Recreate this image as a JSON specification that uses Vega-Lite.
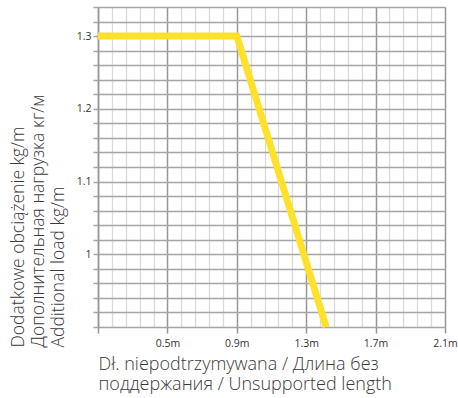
{
  "$schema": "https://vega.github.io/schema/vega-lite/v6.json",
  "width": 347,
  "height": 320,
  "autosize": {"type": "none"},
  "padding": {"left": 98, "top": 7, "right": 13, "bottom": 71},
  "background": "white",
  "config": {
    "view": {"stroke": null},
    "axis": {"labelFont": "Open Sans", "titleFont": "Open Sans"}
  },
  "data": {
    "values": [
      {"x": 0.1, "y": 1.3},
      {"x": 0.9, "y": 1.3},
      {"x": 1.415, "y": 0.9}
    ]
  },
  "layer": [
    {
      "mark": {"type": "line", "opacity": 0},
      "encoding": {
        "x": {
          "field": "x", "type": "quantitative",
          "scale": {"domain": [0.1, 2.1], "nice": false, "zero": false},
          "axis": {
            "orient": "top",
            "values": [0.18, 0.26, 0.34, 0.42, 0.58, 0.66, 0.74, 0.82, 0.98, 1.06, 1.14, 1.22, 1.38, 1.46, 1.54, 1.62, 1.78, 1.86, 1.94, 2.02],
            "grid": true, "gridColor": "#dadada", "gridWidth": 1.3,
            "labels": false, "ticks": false, "domain": false, "title": null
          }
        },
        "y": {
          "field": "y", "type": "quantitative",
          "scale": {"domain": [0.9, 1.34], "nice": false, "zero": false},
          "axis": null
        }
      }
    },
    {
      "mark": {"type": "line", "opacity": 0},
      "encoding": {
        "x": {
          "field": "x", "type": "quantitative",
          "scale": {"domain": [0.1, 2.1], "nice": false, "zero": false},
          "axis": {
            "orient": "bottom",
            "values": [0.1, 0.5, 0.9, 1.3, 1.7, 2.1],
            "grid": true, "gridColor": "#979797", "gridWidth": 1.5,
            "domain": false,
            "ticks": true, "tickSize": 6, "tickColor": "#979797", "tickWidth": 1.5,
            "labelExpr": "datum.value < 0.2 ? '' : format(datum.value, '.1f') + 'm'",
            "labelFontSize": 10.5, "labelColor": "#333333", "labelPadding": 5,
            "labelFlush": false,
            "title": ["Dł. niepodtrzymywana / Длина без", "поддержания / Unsupported length"],
            "titleFontSize": 18, "titleFontWeight": 300, "titleColor": "#3a3a3a",
            "titleAnchor": "start", "titleAlign": "left", "titleBaseline": "alphabetic",
            "titleX": 0, "titleY": 42, "titleLineHeight": 20
          }
        },
        "y": {
          "field": "y", "type": "quantitative",
          "scale": {"domain": [0.9, 1.34], "nice": false, "zero": false},
          "axis": {
            "orient": "left",
            "values": [0.9, 0.92, 0.94, 0.96, 0.98, 1.0, 1.02, 1.04, 1.06, 1.08, 1.1, 1.12, 1.14, 1.16, 1.18, 1.2, 1.22, 1.24, 1.26, 1.28, 1.3, 1.32, 1.34],
            "grid": true, "gridColor": "#a5a5a5", "gridWidth": 1.5,
            "domain": true, "domainColor": "#979797", "domainWidth": 1.5,
            "ticks": true, "tickSize": 5, "tickColor": "#a5a5a5", "tickWidth": 1.5,
            "labelExpr": "abs(datum.value*10 - round(datum.value*10)) < 0.001 && datum.value > 0.95 && datum.value < 1.32 ? format(datum.value, '~g') : ''",
            "labelFontSize": 10.5, "labelColor": "#333333", "labelPadding": 2,
            "labelFlush": false,
            "title": ["Dodatkowe obciążenie kg/m", "Дополнительная нагрузка кг/м", "Additional load kg/m"],
            "titleFontSize": 17.5, "titleFontWeight": 300, "titleColor": "#3a3a3a",
            "titleAngle": -90, "titleAlign": "left", "titleBaseline": "top",
            "titleAnchor": "start",
            "titleX": -89, "titleY": 340, "titleLineHeight": 20
          }
        }
      }
    },
    {
      "mark": {"type": "line", "color": "#FFE02B", "strokeWidth": 7, "strokeCap": "butt", "strokeJoin": "miter"},
      "encoding": {
        "x": {
          "field": "x", "type": "quantitative",
          "scale": {"domain": [0.1, 2.1], "nice": false, "zero": false},
          "axis": null
        },
        "y": {
          "field": "y", "type": "quantitative",
          "scale": {"domain": [0.9, 1.34], "nice": false, "zero": false},
          "axis": null
        }
      }
    }
  ],
  "resolve": {"axis": {"x": "independent", "y": "independent"}}
}
